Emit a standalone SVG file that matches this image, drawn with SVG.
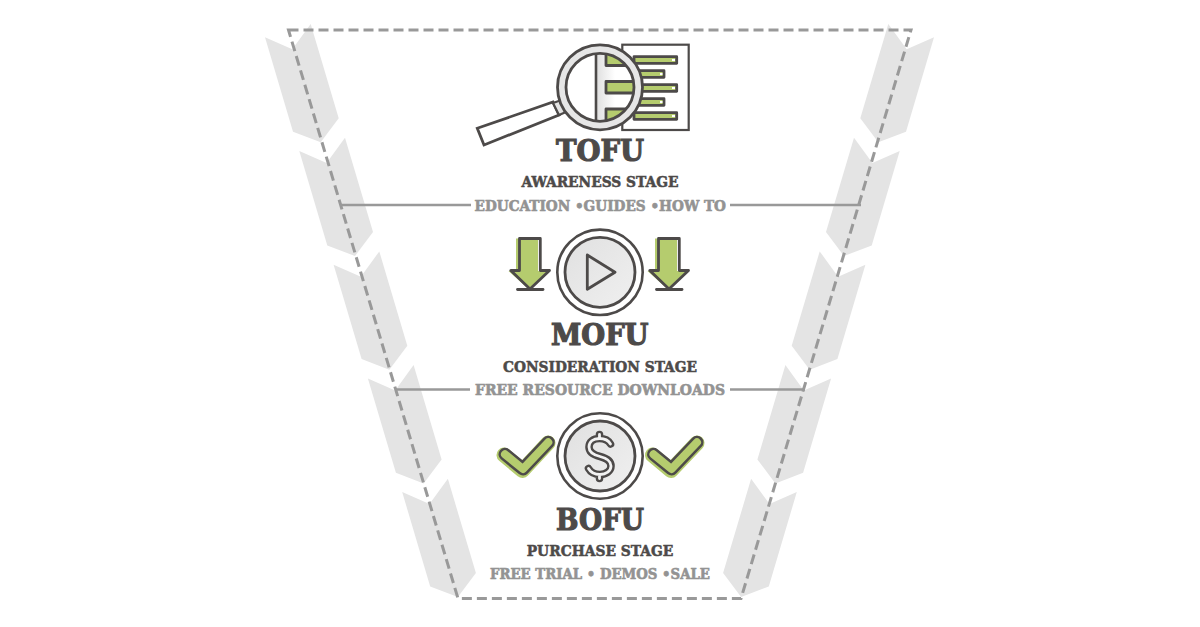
<svg xmlns="http://www.w3.org/2000/svg" xmlns:xlink="http://www.w3.org/1999/xlink" width="1200" height="627" viewBox="0 0 1200 627">
<style>
text{font-family:"DejaVu Serif Condensed","DejaVu Serif","Liberation Serif",serif;font-weight:bold}
.h{fill:#4d4a49;stroke:#4d4a49;stroke-width:1.1px;font-size:29px}
.s{fill:#4d4a49;stroke:#4d4a49;stroke-width:.5px;font-size:15.5px}
.t{fill:#939393;stroke:#939393;stroke-width:.6px;font-size:15.5px}
.chev{fill:#e4e4e4}
.dash{fill:none;stroke:#999;stroke-width:3;stroke-dasharray:10 5}
.rule{fill:none;stroke:#999;stroke-width:2.6}
.o{fill:none;stroke:#4d4a49;stroke-width:2.8;stroke-linejoin:round;stroke-linecap:round}
.g{fill:#b5cc6e}
</style>
<defs>
<linearGradient id="disc" x1="0" y1="0" x2="1" y2="1"><stop offset="0" stop-color="#e0e0e0"/><stop offset="1" stop-color="#f0f0f0"/></linearGradient>
<linearGradient id="stip" x1="0" y1="0" x2="1" y2="0"><stop offset="0" stop-color="#e0e0e0"/><stop offset="1" stop-color="#ffffff"/></linearGradient>
<clipPath id="lens"><circle cx="600" cy="87.3" r="34"/></clipPath>
<polygon id="c" class="chev" points="265,37.3 292.3,49.3 310.7,24 338.7,118.3 320.7,142.3 293,131.7"/>
<polygon id="arrowG" class="g" points="516,238.5 538,238.5 538,271 548,271 528.5,289 508.5,271 516,271"/>
<polygon id="arrowO" class="o" points="519.5,238.5 540.3,238.5 540.3,270.5 549.5,270.5 530,289 510.8,270.5 519.5,270.5"/>
</defs>
<g id="funnel-bands">
<use href="#c"/><use href="#c" x="34.3" y="113.7"/><use href="#c" x="68.6" y="227.4"/><use href="#c" x="102.9" y="341.1"/><use href="#c" x="137.2" y="454.8"/>
<g transform="translate(1199,0) scale(-1,1)"><use href="#c"/><use href="#c" x="34.3" y="113.7"/><use href="#c" x="68.6" y="227.4"/><use href="#c" x="102.9" y="341.1"/><use href="#c" x="137.2" y="454.8"/></g>
</g>
<g id="connectors">
<path class="dash" d="M288.5 30H911L741 598.5H458Z"/>
<path class="rule" d="M340 205H471M730 205H861M395 389.5H470M730 389.5H805"/>
</g>
<g id="tofu">
<g id="tofu-icon">
<rect x="622.3" y="44.7" width="66.4" height="85.3" fill="#fff" stroke="#4d4a49" stroke-width="2.2"/>
<g>
<rect x="634" y="56.7" width="42.7" height="6.6" class="g"/><rect x="634" y="70.7" width="30" height="6.6" class="g"/><rect x="634" y="84.7" width="42.7" height="6.6" class="g"/><rect x="634" y="98.7" width="30" height="6.6" class="g"/><rect x="634" y="112.7" width="42.7" height="6.6" class="g"/>
<path class="o" d="M634 56.7H676.7V63.3H634ZM634 70.7H664V77.3H634M634 84.7H676.7V91.3H634M634 98.7H664V105.3H634M634 112.7H676.7V119.3H634Z"/>
<path stroke="#fff" stroke-width="2" d="M672 60H675M660 74H662.5M672 88H675M660 102H662.5M672 116H675"/>
</g>
<polygon points="477.3,128.3 553,102 559,115 484,145" fill="#fff" stroke="#4d4a49" stroke-width="2.8" stroke-linejoin="miter"/>
<polygon points="553,103 560,100.5 566,112 559,115" fill="#e4e4e4" stroke="#4d4a49" stroke-width="2.2"/>
<circle cx="600" cy="87.3" r="38.5" fill="none" stroke="#e6e6e6" stroke-width="8"/>
<circle cx="600" cy="87.3" r="42.5" fill="none" stroke="#4d4a49" stroke-width="2.8"/>
<circle cx="600" cy="87.3" r="34" fill="#fff"/>
<g clip-path="url(#lens)">
<rect x="597" y="50" width="18" height="76" fill="url(#stip)"/>
<path d="M596 50V126" stroke="#4d4a49" stroke-width="2.6" fill="none"/>
<rect x="606" y="54" width="34" height="11.5" class="g"/><rect x="606" y="81.5" width="34" height="11.5" class="g"/><rect x="606" y="109" width="34" height="11.5" class="g"/>
<path class="o" d="M606 50V65.5H640M640 81.5H606V93H640M640 109H606V124"/>
</g>
<circle cx="600" cy="87.3" r="34" fill="none" stroke="#4d4a49" stroke-width="2.8"/>
</g>
<text class="h" x="556" y="161" textLength="88" lengthAdjust="spacingAndGlyphs">TOFU</text>
<text class="s" x="521.5" y="187" textLength="157" lengthAdjust="spacingAndGlyphs">AWARENESS STAGE</text>
<text class="t" x="474.5" y="210.8" textLength="251.5" lengthAdjust="spacingAndGlyphs">EDUCATION •GUIDES •HOW TO</text>
</g>
<g id="mofu">
<g id="mofu-icon">
<circle cx="600" cy="272.3" r="42.7" fill="#fff" stroke="#4d4a49" stroke-width="2.6"/>
<circle cx="600" cy="272.3" r="35" fill="url(#disc)" stroke="#4d4a49" stroke-width="2.8"/>
<polygon class="o" points="587.3,255 615,272.3 587.3,289.3"/>
<use href="#arrowG"/><use href="#arrowO"/><path class="o" d="M517.5 289.5H543"/>
<use href="#arrowG" x="139"/><use href="#arrowO" x="139"/><path class="o" d="M656.5 289.5H682"/>
</g>
<text class="h" x="551" y="345" textLength="97.5" lengthAdjust="spacingAndGlyphs">MOFU</text>
<text class="s" x="503" y="371.5" textLength="194" lengthAdjust="spacingAndGlyphs">CONSIDERATION STAGE</text>
<text class="t" x="475" y="394.5" textLength="250" lengthAdjust="spacingAndGlyphs">FREE RESOURCE DOWNLOADS</text>
</g>
<g id="bofu">
<g id="bofu-icon">
<circle cx="600" cy="456" r="42.7" fill="#fff" stroke="#4d4a49" stroke-width="2.6"/>
<circle cx="600" cy="456" r="35" fill="url(#disc)" stroke="#4d4a49" stroke-width="2.8"/>
<g fill="none" stroke-linecap="round" stroke-linejoin="round">
<path stroke="#4d4a49" stroke-width="7.6" d="M610.5 444C608 439.5 604 438.5 599.5 438.5C593 438.5 589 442 589 447C589 453 594 455 600 456.5C606 458 611 460.5 611 466C611 471 606 474.5 600 474.5C595 474.5 591 473 588.5 468.5M599.5 434.5V438.5M599.5 474.5V478.5"/>
<path stroke="#f2f2f2" stroke-width="2.8" d="M610.5 444C608 439.5 604 438.5 599.5 438.5C593 438.5 589 442 589 447C589 453 594 455 600 456.5C606 458 611 460.5 611 466C611 471 606 474.5 600 474.5C595 474.5 591 473 588.5 468.5M599.5 434.5V438.5M599.5 474.5V478.5"/>
</g>
<g fill="none" stroke-linecap="round" stroke-linejoin="round">
<path stroke="#b5cc6e" stroke-width="15" d="M504 455L522.5 470.5L548 443"/>
<path stroke="#4d4a49" stroke-width="13" d="M505 454.3L523 469L548.3 442.3"/>
<path stroke="#b5cc6e" stroke-width="8" d="M505 454.3L523 469L548.3 442.3"/>
<path stroke="#b5cc6e" stroke-width="15" d="M652.5 455L671 470.5L697 443"/>
<path stroke="#4d4a49" stroke-width="13" d="M653.5 454.3L671.5 469L697 442.3"/>
<path stroke="#b5cc6e" stroke-width="8" d="M653.5 454.3L671.5 469L697 442.3"/>
</g>
</g>
<text class="h" x="556" y="530" textLength="88" lengthAdjust="spacingAndGlyphs">BOFU</text>
<text class="s" x="526.7" y="556" textLength="146.6" lengthAdjust="spacingAndGlyphs">PURCHASE STAGE</text>
<text class="t" x="490" y="579.3" textLength="220" lengthAdjust="spacingAndGlyphs">FREE TRIAL • DEMOS •SALE</text>
</g>
</svg>
